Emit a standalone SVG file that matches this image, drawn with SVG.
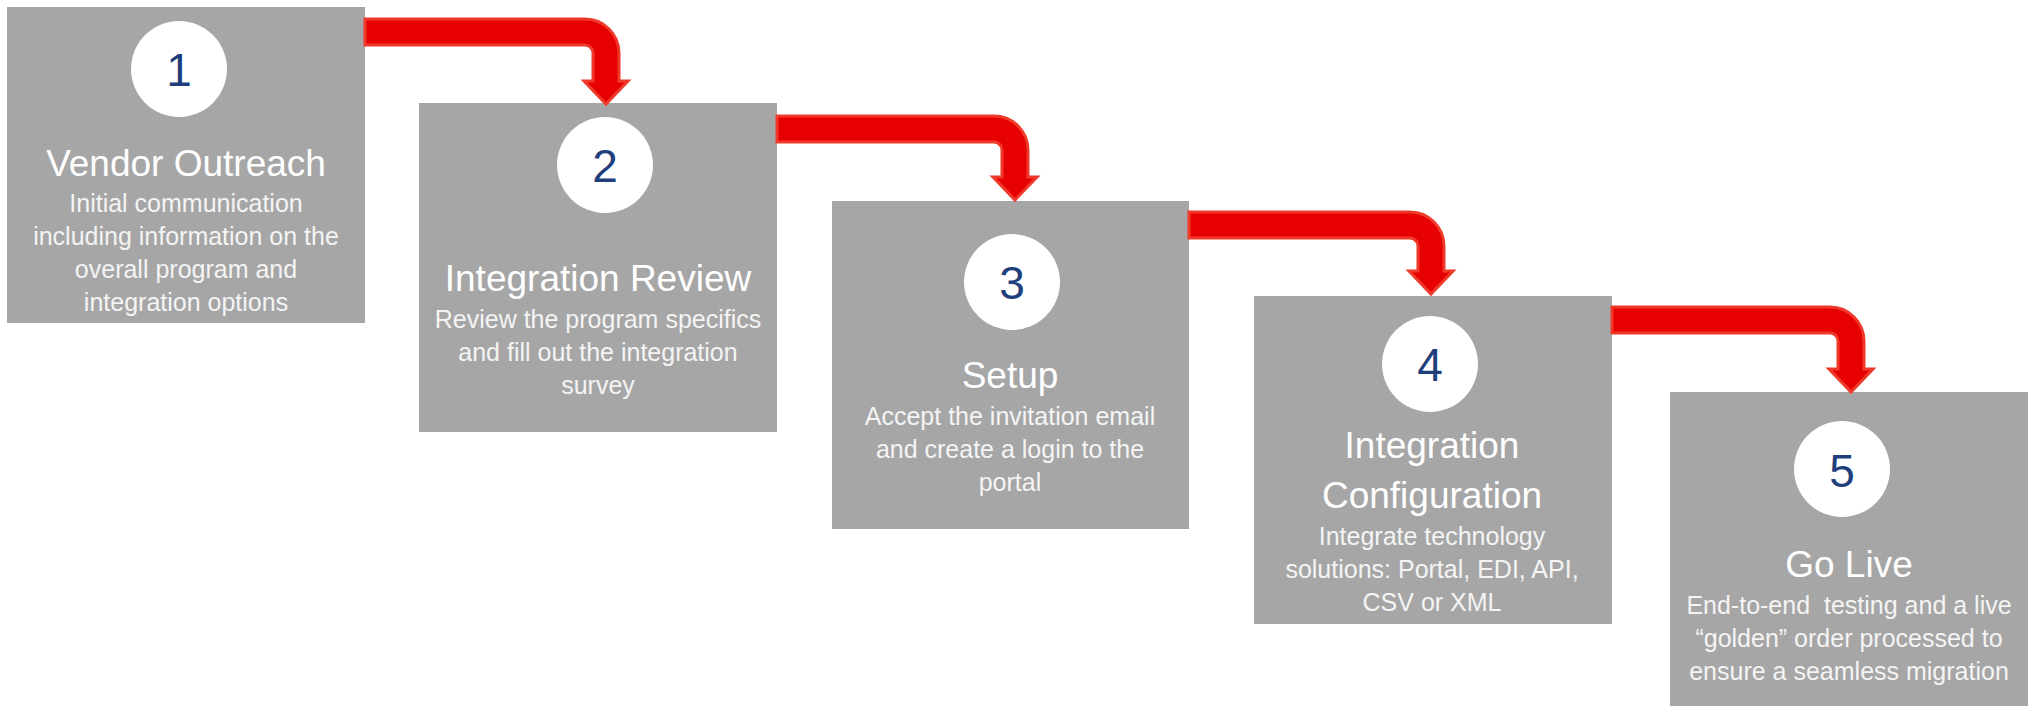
<svg xmlns="http://www.w3.org/2000/svg" width="2035" height="706" viewBox="0 0 2035 706">
<style>
.box{fill:#A6A6A6}
.circ{fill:#FFFFFF}
.num{font-family:"Liberation Sans",Arial,sans-serif;font-size:46px;fill:#1F3F7C;text-anchor:middle}
.title{font-family:"Liberation Sans",Arial,sans-serif;font-size:37px;fill:#FFFFFF;text-anchor:middle}
.desc{font-family:"Liberation Sans",Arial,sans-serif;font-size:25px;fill:#F4F4F4;text-anchor:middle;white-space:pre}
.arrow{fill:#E60000;stroke:#EF3A2B;stroke-width:3;stroke-linejoin:miter}
</style>
<rect width="2035" height="706" fill="#FFFFFF"/>
<g id="step1">
<rect class="box" x="7" y="7" width="358" height="316"/>
<circle class="circ" cx="179" cy="69" r="48"/>
<text class="num" x="179" y="86">1</text>
<text class="title" x="186" y="176">Vendor Outreach</text>
<text class="desc" x="186" y="212">Initial communication</text>
<text class="desc" x="186" y="245">including information on the</text>
<text class="desc" x="186" y="278">overall program and</text>
<text class="desc" x="186" y="311">integration options</text>
</g>
<g id="step2">
<rect class="box" x="419" y="103" width="358" height="329"/>
<circle class="circ" cx="605" cy="165" r="48"/>
<text class="num" x="605" y="182">2</text>
<text class="title" x="598" y="291">Integration Review</text>
<text class="desc" x="598" y="328">Review the program specifics</text>
<text class="desc" x="598" y="361">and fill out the integration</text>
<text class="desc" x="598" y="394">survey</text>
</g>
<g id="step3">
<rect class="box" x="832" y="201" width="357" height="328"/>
<circle class="circ" cx="1012" cy="282" r="48"/>
<text class="num" x="1012" y="299">3</text>
<text class="title" x="1010" y="388">Setup</text>
<text class="desc" x="1010" y="425">Accept the invitation email</text>
<text class="desc" x="1010" y="458">and create a login to the</text>
<text class="desc" x="1010" y="491">portal</text>
</g>
<g id="step4">
<rect class="box" x="1254" y="296" width="358" height="328"/>
<circle class="circ" cx="1430" cy="364" r="48"/>
<text class="num" x="1430" y="381">4</text>
<text class="title" x="1432" y="458">Integration</text>
<text class="title" x="1432" y="508">Configuration</text>
<text class="desc" x="1432" y="545">Integrate technology</text>
<text class="desc" x="1432" y="578">solutions: Portal, EDI, API,</text>
<text class="desc" x="1432" y="611">CSV or XML</text>
</g>
<g id="step5">
<rect class="box" x="1670" y="392" width="358" height="320"/>
<circle class="circ" cx="1842" cy="469" r="48"/>
<text class="num" x="1842" y="487">5</text>
<text class="title" x="1849" y="577">Go Live</text>
<text class="desc" x="1849" y="614" xml:space="preserve">End-to-end  testing and a live</text>
<text class="desc" x="1849" y="647">“golden” order processed to</text>
<text class="desc" x="1849" y="680">ensure a seamless migration</text>
</g>
<g id="connectors">
<path class="arrow" d="M365,19 H585 A34,34 0 0 1 619,53 V81 H628 L606,104 L584,81 H593 V53 A8,8 0 0 0 585,45 H365 Z"/>
<path class="arrow" d="M777,116 H994 A34,34 0 0 1 1028,150 V177 H1037 L1015,200 L993,177 H1002 V150 A8,8 0 0 0 994,142 H777 Z"/>
<path class="arrow" d="M1189,212 H1410 A34,34 0 0 1 1444,246 V271 H1453 L1431,294 L1409,271 H1418 V246 A8,8 0 0 0 1410,238 H1189 Z"/>
<path class="arrow" d="M1612,307 H1830 A34,34 0 0 1 1864,341 V369 H1873 L1851,392 L1829,369 H1838 V341 A8,8 0 0 0 1830,333 H1612 Z"/>
</g>
</svg>
